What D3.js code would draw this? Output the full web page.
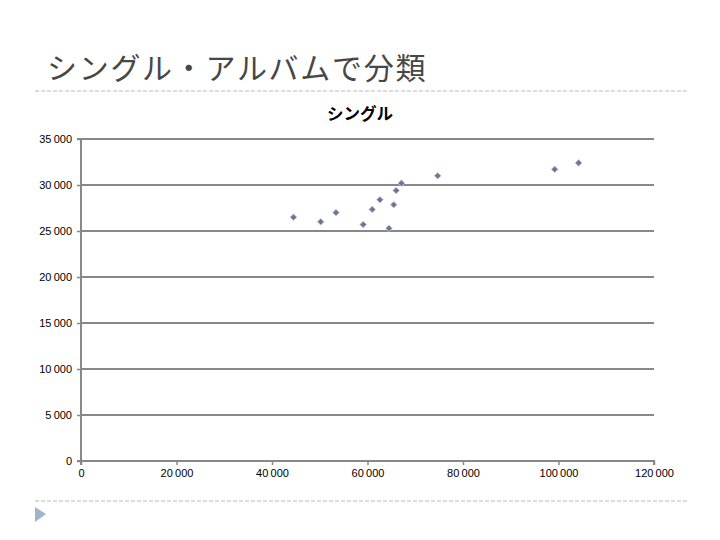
<!DOCTYPE html>
<html>
<head>
<meta charset="utf-8">
<script src="https://cdn.jsdelivr.net/npm/d3@7"></script>
<style>
  body { margin: 0; background: #fff; }
  svg { display: block; }
</style>
</head>
<body>
<svg id="chart" width="720" height="540"></svg>
<script>
// single sales (x) vs (y)
const salesX = [44500, 50200, 53400, 59100, 61000, 62600, 64500, 65500, 66000, 67100, 74700, 99200, 104200];
const salesY = [26500, 26000, 27000, 25700, 27350, 28400, 25300, 27850, 29400, 30200, 31000, 31700, 32400];
const xTicks = [0, 20000, 40000, 60000, 80000, 100000, 120000];
const yTicks = [0, 5000, 10000, 15000, 20000, 25000, 30000, 35000];

const pageTitle = "シングル・アルバムで分類";
const chartTitle = "シングル";

let svg = d3.select("#chart");

let x = d3.scaleLinear().domain([0, 120000]).range([81, 654]);
let y = d3.scaleLinear().domain([0, 35000]).range([461, 139]);

let locale = d3.formatLocale({ decimal: ",", thousands: "\u2009", grouping: [3], currency: ["", ""] });
let fmt = locale.format(",d");

// slide title + dashed rules
svg.append("text")
  .attr("x", 47)
  .attr("y", 79)
  .style("font-family", "'Noto Sans CJK JP'")
  .style("font-size", "30px")
  .style("letter-spacing", "1.7px")
  .style("fill", "#474747")
  .text(pageTitle);

[91, 501].forEach((ly) => {
  svg.append("line")
    .attr("x1", 35).attr("x2", 688)
    .attr("y1", ly).attr("y2", ly)
    .style("stroke", "#b4b8bc")
    .style("stroke-width", 1)
    .style("stroke-dasharray", "4,2");
});

svg.append("path")
  .attr("d", "M35,507 L46,514 L35,522 Z")
  .style("fill", "#9fb3cc");

svg.append("text")
  .attr("x", 360)
  .attr("y", 120)
  .attr("text-anchor", "middle")
  .style("font-family", "'Noto Sans CJK JP'")
  .style("font-size", "16.5px")
  .style("font-weight", "bold")
  .style("fill", "#000")
  .text(chartTitle);

// gridlines
svg.append("g")
  .selectAll("line")
  .data(yTicks.filter((d) => d > 0))
  .join("line")
  .attr("x1", x(0)).attr("x2", x(120000))
  .attr("y1", (d) => y(d)).attr("y2", (d) => y(d))
  .style("stroke", "#888888")
  .style("stroke-width", 2);

// axes
let xAxis = d3.axisBottom(x).tickValues(xTicks).tickSize(4).tickPadding(4).tickFormat(fmt);
let yAxis = d3.axisLeft(y).tickValues(yTicks).tickSize(4).tickPadding(5).tickFormat(fmt);

let gx = svg.append("g").attr("transform", `translate(0,${y(0)})`).call(xAxis);
let gy = svg.append("g").attr("transform", `translate(${x(0)},0)`).call(yAxis);

[gx, gy].forEach((g) => {
  g.select(".domain").style("stroke", "#888888").style("stroke-width", 2);
  g.selectAll(".tick line").style("stroke", "#888888").style("stroke-width", 1.5);
  g.selectAll(".tick text")
    .style("font-family", "'Liberation Sans Narrow', 'Liberation Sans', sans-serif")
    .style("font-size", "11px")
    .style("fill", "#000");
});
gx.select(".domain").attr("d", `M${x(0)},4V0H${x(120000)}V4`);
gy.select(".domain").attr("d", `M-4,${y(35000)}H0V${y(0)}H-4`);

// points: square diamonds
let marker = d3.symbol().type(d3.symbolSquare).size(22);
svg.append("g")
  .selectAll("path")
  .data(salesX.map((v, i) => [v, salesY[i]]))
  .join("path")
  .attr("d", marker)
  .attr("transform", (d) => `translate(${x(d[0])},${y(d[1])}) rotate(45)`)
  .style("fill", "#6a7592")
  .style("stroke", "#c4cad8")
  .style("stroke-width", 0.8);
</script>
</body>
</html>
